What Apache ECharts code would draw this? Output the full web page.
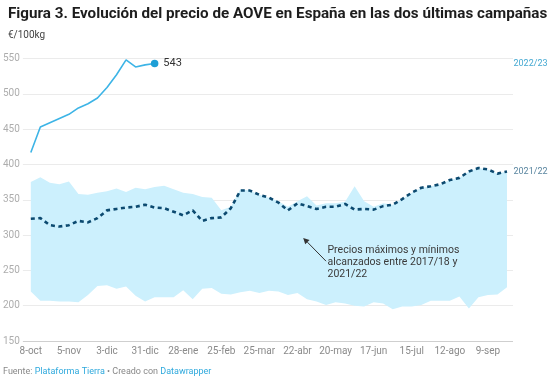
<!DOCTYPE html>
<html>
<head>
<meta charset="utf-8">
<script src="https://cdn.jsdelivr.net/npm/echarts@6/dist/echarts.min.js"></script>
<style>
html,body{margin:0;padding:0;background:#fff;}
#c{width:550px;height:379px;}
</style>
</head>
<body>
<div id="c"></div>
<script>
// Weekly points starting 8-oct (index 0) to 23-sep (index 50)
const xLabels = ['8-oct','5-nov','3-dic','31-dic','28-ene','25-feb','25-mar','22-abr','20-may','17-jun','15-jul','12-ago','9-sep'];
const xLabelIdx = [0,4,8,12,16,20,24,28,32,36,40,44,48];
const yTicks = [150,200,250,300,350,400,450,500,550];

const s2223 = [417,453,459,465,471,480,486,494,509,527,548,538,541,543];
const s2122 = [323,324,314,312,314,320,318,324,335,337,339,340,343,
               339,338,333,328,335,320,324,325,338,363,363,357,353,
               346,335,345,341,337,340,340,344,336,337,336,341,343,
               351,360,367,369,372,378,381,390,395,393,387,390];
const bandMax = [375,382,374,372,376,358,357,360,362,366,361,367,365,
                 368,370,365,360,358,354,353,335,340,365,363,357,353,
                 348,340,348,355,342,345,345,347,369,348,340,345,343,
                 351,360,367,369,372,378,381,390,395,393,387,390];
const bandMin = [220,207,207,206,206,205,215,228,229,224,227,214,206,
                 212,212,212,222,209,224,225,217,216,219,221,218,221,
                 220,215,218,209,206,201,205,203,200,199,205,203,195,
                 199,199,201,207,207,207,213,196,212,215,216,226];

const annoText = 'Precios máximos y mínimos\nalcanzados entre 2017/18 y\n2021/22';
const FONT = 'Roboto';

const chart = echarts.init(document.getElementById('c'), null, {renderer:'canvas'});

const last = s2223.length - 1;
const d2223 = s2223.map((v,i) => i === last ? {
  value:[i,v], symbol:'circle', symbolSize:7.5,
  itemStyle:{color:'#1e9fd6'},
  label:{show:true, position:'right', distance:5, formatter:String(v), color:'#333', fontSize:11, fontFamily:FONT}
} : [i,v]);

const option = {
  animation:false,
  textStyle:{fontFamily:FONT},
  title:[
    {text:'Figura 3. Evolución del precio de AOVE en España en las dos últimas campañas', left:3, top:2,
     textStyle:{fontSize:15.2, fontWeight:'bold', color:'#1d1d1d', fontFamily:FONT}},
    {text:'€/100kg', left:3, top:25, textStyle:{fontSize:10, fontWeight:'normal', color:'#444', fontFamily:FONT}}
  ],
  grid:{left:20, right:37, top:58.5, bottom:38, containLabel:false},
  xAxis:{
    type:'value', min:-0.835, max:50.63,
    axisLine:{show:false}, axisTick:{show:false}, splitLine:{show:false},
    axisLabel:{customValues:xLabelIdx, formatter:v => xLabels[xLabelIdx.indexOf(v)] || '',
      color:'#8a8a8a', fontSize:10, margin:5, fontFamily:FONT}
  },
  yAxis:{
    type:'value', min:yTicks[0], max:yTicks[yTicks.length-1], interval:50,
    axisLine:{show:false}, axisTick:{show:false},
    splitLine:{lineStyle:{color:['#cfcfcf','#ebebeb','#ebebeb','#ebebeb','#ebebeb','#ebebeb','#ebebeb','#ebebeb','#ebebeb'], width:1}},
    axisLabel:{color:'#adadad', fontSize:10, margin:3, fontFamily:FONT}
  },
  series:[
    {
      type:'custom', name:'band', silent:true, z:1,
      data:[[0,300]],
      renderItem:function(params, api){
        if (params.dataIndex !== 0) return;
        const pts = [];
        for (let i=0;i<bandMax.length;i++) pts.push(api.coord([i, bandMax[i]]));
        for (let i=bandMin.length-1;i>=0;i--) pts.push(api.coord([i, bandMin[i]]));
        return {type:'polygon', shape:{points:pts}, style:{fill:'#ccf0fd'}};
      }
    },
    {
      type:'line', name:'2021/22', z:3,
      data:s2122.map((v,i)=>[i,v]),
      showSymbol:false, symbol:'none',
      lineStyle:{color:'#0c4a70', width:2.6, type:[4,3.5], cap:'butt'}
    },
    {
      type:'line', name:'2022/23', z:4,
      data:d2223,
      symbol:'circle', symbolSize:0, showSymbol:true, showAllSymbol:true,
      lineStyle:{color:'#3db4e6', width:1.6},
      itemStyle:{color:'#3db4e6'}
    }
  ]
};
chart.setOption(option);

function px(x,y){ return chart.convertToPixel({gridIndex:0},[x,y]); }

const gridRight = px(50.63, 150)[0];
const p2223 = px(last, s2223[last]);
const p2122 = px(s2122.length-1, s2122[s2122.length-1]);
const tip = px(28.6, 296);
const tail = px(31.0, 263);
const txt = px(31.15, 286);

const ang = Math.atan2(tip[1]-tail[1], tip[0]-tail[0]);
const hl = 6, hw = 3;
const bx = tip[0]-hl*Math.cos(ang), by = tip[1]-hl*Math.sin(ang);
const head = [
  [tip[0], tip[1]],
  [bx + hw*Math.sin(ang), by - hw*Math.cos(ang)],
  [bx - hw*Math.sin(ang), by + hw*Math.cos(ang)]
];

chart.setOption({
  graphic:[
    {type:'text', left:gridRight+0.5, top:p2223[1]+1.5-6, style:{text:'2022/23', fill:'#45a9d2', fontSize:9, fontFamily:FONT}},
    {type:'text', left:gridRight+0.5, top:p2122[1]+1.5-6, style:{text:'2021/22', fill:'#5a86a0', fontSize:9, fontFamily:FONT}},
    {type:'line', shape:{x1:tail[0], y1:tail[1], x2:bx, y2:by}, style:{stroke:'#333', lineWidth:1}, z:10},
    {type:'polygon', shape:{points:head}, style:{fill:'#333'}, z:10},
    {type:'text', x:txt[0], y:txt[1], style:{text:annoText, fill:'#3a3a3a', fontSize:10.5, lineHeight:11.7, fontFamily:FONT, verticalAlign:'top'}, z:10},
    {type:'text', left:3, top:367, z:10, style:{
      text:'{g|Fuente: }{b|Plataforma Tierra}{g| • Creado con }{b|Datawrapper}',
      rich:{
        g:{fill:'#888', fontSize:9, fontFamily:FONT},
        b:{fill:'#2ea9dd', fontSize:9, fontFamily:FONT}
      }
    }}
  ]
});
</script>
</body>
</html>
